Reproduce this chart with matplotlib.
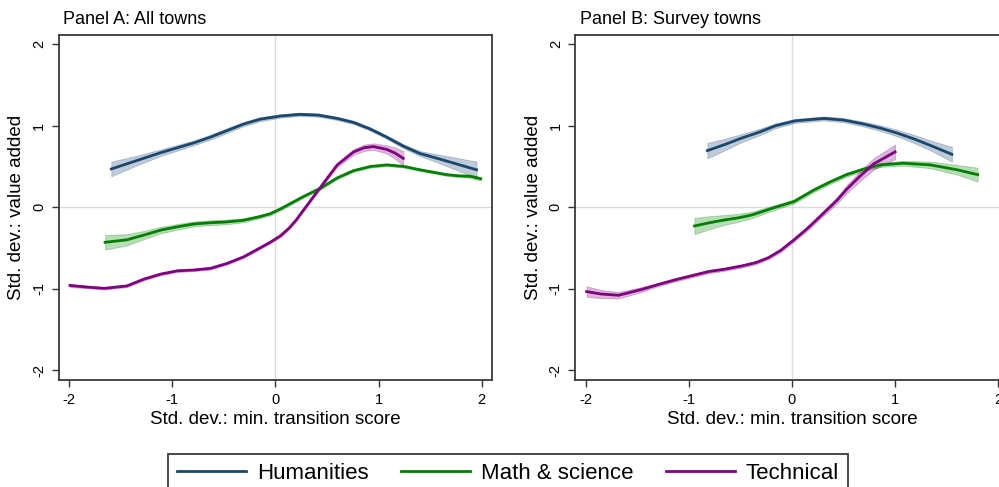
import matplotlib
matplotlib.use("Agg")
import matplotlib.pyplot as plt
from matplotlib.lines import Line2D
import numpy as np

plt.rcParams['font.family'] = ['Liberation Sans', 'DejaVu Sans']

# ---- colours / labels ----
C_HUM = "#1a476f"
C_MATH = "#008000"
C_TECH = "#800080"
SERIES = ["Humanities", "Math & science", "Technical"]
TITLES = ["Panel A: All towns", "Panel B: Survey towns"]
TICKS = [-2, -1, 0, 1, 2]

# ---- Panel A: all towns (x, fitted y, half-width of CI) ----
a_hum_x = [-1.59, -1.35, -1.11, -0.95, -0.79, -0.63, -0.47, -0.31, -0.15, 0.05, 0.24, 0.42, 0.60, 0.76, 0.92, 1.08, 1.24, 1.40, 1.57, 1.76, 1.95]
a_hum_y = [0.47, 0.57, 0.67, 0.73, 0.79, 0.86, 0.94, 1.02, 1.08, 1.12, 1.14, 1.13, 1.09, 1.04, 0.96, 0.86, 0.75, 0.66, 0.60, 0.53, 0.46]
a_hum_ci = [0.09, 0.06, 0.04, 0.035, 0.03, 0.03, 0.03, 0.025, 0.025, 0.02, 0.02, 0.02, 0.02, 0.02, 0.02, 0.02, 0.025, 0.03, 0.05, 0.075, 0.10]

a_math_x = [-1.65, -1.44, -1.27, -1.11, -0.95, -0.79, -0.63, -0.47, -0.31, -0.15, -0.05, 0.05, 0.27, 0.44, 0.60, 0.76, 0.92, 1.08, 1.25, 1.40, 1.53, 1.66, 1.78, 1.89, 1.99]
a_math_y = [-0.43, -0.40, -0.34, -0.28, -0.24, -0.205, -0.19, -0.18, -0.16, -0.115, -0.08, -0.02, 0.13, 0.235, 0.36, 0.45, 0.50, 0.52, 0.50, 0.46, 0.43, 0.40, 0.385, 0.38, 0.35]
a_math_ci = [0.09, 0.07, 0.05, 0.04, 0.035, 0.03, 0.03, 0.03, 0.025, 0.02, 0.02, 0.02, 0.015, 0.015, 0.015, 0.015, 0.015, 0.015, 0.015, 0.015, 0.015, 0.015, 0.015, 0.02, 0.02]

a_tech_x = [-1.99, -1.82, -1.66, -1.44, -1.27, -1.11, -0.95, -0.79, -0.63, -0.47, -0.31, -0.15, -0.05, 0.05, 0.13, 0.20, 0.27, 0.44, 0.60, 0.76, 0.86, 0.95, 1.08, 1.16, 1.24]
a_tech_y = [-0.96, -0.98, -0.995, -0.966, -0.88, -0.82, -0.78, -0.77, -0.75, -0.69, -0.61, -0.50, -0.43, -0.35, -0.26, -0.16, -0.04, 0.25, 0.52, 0.68, 0.73, 0.745, 0.71, 0.665, 0.60]
a_tech_ci = [0.02, 0.015, 0.015, 0.015, 0.015, 0.015, 0.015, 0.015, 0.015, 0.015, 0.015, 0.015, 0.015, 0.015, 0.015, 0.015, 0.015, 0.02, 0.025, 0.035, 0.04, 0.04, 0.05, 0.07, 0.09]

# ---- Panel B: survey towns ----
b_hum_x = [-0.82, -0.65, -0.485, -0.32, -0.16, 0.03, 0.31, 0.50, 0.70, 0.86, 1.02, 1.18, 1.34, 1.55]
b_hum_y = [0.695, 0.77, 0.85, 0.92, 1.00, 1.06, 1.09, 1.07, 1.02, 0.97, 0.91, 0.84, 0.76, 0.65]
b_hum_ci = [0.095, 0.07, 0.05, 0.04, 0.03, 0.025, 0.025, 0.025, 0.03, 0.035, 0.04, 0.05, 0.06, 0.09]

b_math_x = [-0.945, -0.80, -0.65, -0.52, -0.39, -0.16, 0.02, 0.21, 0.37, 0.53, 0.70, 0.86, 1.08, 1.34, 1.60, 1.80]
b_math_y = [-0.23, -0.19, -0.155, -0.13, -0.095, 0.0, 0.07, 0.21, 0.31, 0.40, 0.47, 0.52, 0.54, 0.52, 0.46, 0.40]
b_math_ci = [0.10, 0.08, 0.06, 0.05, 0.04, 0.03, 0.025, 0.025, 0.025, 0.025, 0.025, 0.025, 0.03, 0.04, 0.06, 0.085]

b_tech_x = [-1.99, -1.85, -1.68, -1.46, -1.30, -1.13, -0.97, -0.81, -0.65, -0.485, -0.35, -0.23, -0.11, 0.02, 0.15, 0.30, 0.44, 0.53, 0.65, 0.79, 1.0]
b_tech_y = [-1.035, -1.065, -1.08, -1.01, -0.95, -0.89, -0.84, -0.79, -0.76, -0.72, -0.68, -0.62, -0.53, -0.40, -0.26, -0.08, 0.09, 0.22, 0.37, 0.53, 0.68]
b_tech_ci = [0.065, 0.05, 0.04, 0.03, 0.02, 0.02, 0.02, 0.02, 0.02, 0.02, 0.02, 0.02, 0.02, 0.02, 0.025, 0.03, 0.04, 0.05, 0.06, 0.07, 0.09]

panels = [
    [(a_hum_x, a_hum_y, a_hum_ci, C_HUM), (a_math_x, a_math_y, a_math_ci, C_MATH), (a_tech_x, a_tech_y, a_tech_ci, C_TECH)],
    [(b_hum_x, b_hum_y, b_hum_ci, C_HUM), (b_math_x, b_math_y, b_math_ci, C_MATH), (b_tech_x, b_tech_y, b_tech_ci, C_TECH)],
]

fig = plt.figure(figsize=(9.99, 4.87), dpi=100)
W, H = 999, 487
lefts = [58.7, 575.3]
for i, series in enumerate(panels):
    ax = fig.add_axes([lefts[i] / W, (H - 380) / H, 433.3 / W, 345.5 / H])
    ax.axvline(0, color="#dcdcdc", lw=1, zorder=0)
    ax.axhline(0, color="#dcdcdc", lw=1, zorder=0)
    for x, y, ci, col in series:
        x = np.array(x)
        y = np.array(y)
        ci = np.array(ci)
        ax.fill_between(x, y - ci, y + ci, facecolor=col, alpha=0.28,
                        edgecolor=col, linewidth=0.6, zorder=2)
        ax.plot(x, y, color=col, lw=2.0, zorder=3, solid_joinstyle="round")
    ax.set_xlim(-2.1, 2.1)
    ax.set_ylim(-2.12, 2.12)
    ax.set_xticks(TICKS)
    ax.set_yticks(TICKS)
    ax.set_xticklabels([str(t) for t in TICKS])
    ax.set_yticklabels([str(t) for t in TICKS], rotation=90, va="center")
    ax.tick_params(labelsize=10.5, length=5, width=1, color="#333333", pad=4)
    for s in ax.spines.values():
        s.set_color("#3a3a3a")
        s.set_linewidth(1.3)
    ax.set_xlabel("Std. dev.: min. transition score", fontsize=13.5, labelpad=3)
    ax.set_ylabel("Std. dev.: value added", fontsize=13.5, labelpad=5)
    ax.text(0.01, 1.02, TITLES[i], transform=ax.transAxes, fontsize=13,
            ha="left", va="bottom")

handles = [Line2D([], [], color=c, lw=2) for c in (C_HUM, C_MATH, C_TECH)]
leg = fig.legend(handles, SERIES, loc="upper center", ncol=3,
                 bbox_to_anchor=(508 / W, 1 - 454 / H), borderaxespad=0,
                 fontsize=16, handlelength=3.1, handletextpad=0.5,
                 columnspacing=1.45, fancybox=False, framealpha=1)
leg.get_frame().set_edgecolor("#3a3a3a")
leg.get_frame().set_linewidth(1.3)

fig.savefig("out.png", dpi=100)
